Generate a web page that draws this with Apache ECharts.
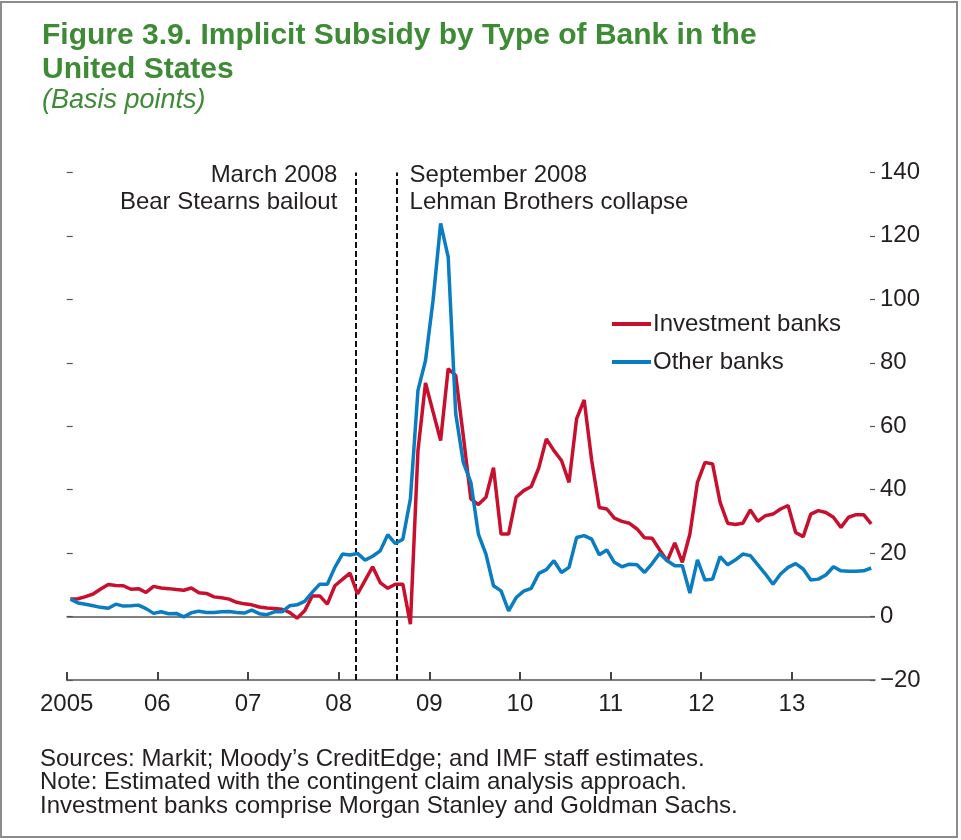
<!DOCTYPE html>
<html><head><meta charset="utf-8">
<script src="https://cdn.jsdelivr.net/npm/echarts@6.0.0/dist/echarts.min.js"></script>
<style>html,body{margin:0;padding:0;background:#fff}#c{width:961px;height:840px}</style>
</head><body><div id="c"></div>
<script>
// ---- data ----
const months = [];
for (let y = 2005; y <= 2013; y++) for (let m = 1; m <= 12; m++) { if (y === 2013 && m > 11) break; months.push(y + '-' + String(m).padStart(2, '0')); }

const investmentBanks = [
  5.5, 5.6, 6.3, 7.1, 8.7, 10.1, 9.8, 9.7, 8.6, 8.8, 7.6, 9.5,
  9.0, 8.8, 8.5, 8.3, 9.0, 7.5, 7.3, 6.2, 5.9, 5.5, 4.5, 4.0,
  3.7, 3.0, 2.7, 2.5, 2.3, 1.3, -0.5, 1.8, 6.5, 6.5, 3.9, 9.7,
  11.7, 13.7, 7.1, 11.4, 15.7, 10.7, 8.9, 10.2, 10.2, -2.4, 52.3, 73.6,
  64.5, 55.5, 78.1, 76.0, 57.0, 37.1, 35.3, 37.6, 46.9, 26.0, 26.0, 37.6,
  39.7, 41.0, 46.9, 56.0, 52.3, 49.2, 42.3, 62.3, 68.3, 49.2, 34.4, 33.9,
  31.0, 30.0, 29.4, 27.6, 24.8, 24.7, 21.0, 17.5, 23.2, 17.1, 26.0, 42.3,
  48.6, 48.1, 36.0, 29.4, 29.0, 29.4, 33.6, 30.0, 31.8, 32.3, 33.9, 35.0,
  26.5, 25.2, 32.3, 33.4, 32.8, 31.3, 28.1, 31.3, 32.1, 32.1, 29.2
];
const otherBanks = [
  5.5, 4.3, 3.9, 3.4, 2.9, 2.6, 3.9, 3.3, 3.4, 3.6, 2.5, 1.0,
  1.5, 0.9, 1.0, -0.1, 1.2, 1.7, 1.3, 1.3, 1.5, 1.6, 1.3, 1.1,
  2.0, 0.9, 0.6, 1.5, 1.5, 3.4, 3.7, 4.8, 7.6, 10.2, 10.2, 15.5,
  19.7, 19.4, 19.9, 17.8, 19.0, 20.7, 25.8, 23.0, 24.4, 37.1, 71.3, 80.7,
  99.7, 123.9, 113.4, 63.9, 48.6, 42.3, 26.0, 19.7, 9.7, 8.1, 1.8, 6.0,
  8.0, 8.9, 13.6, 14.8, 17.6, 13.9, 15.5, 24.9, 25.5, 24.4, 19.5, 21.0,
  17.1, 15.7, 16.5, 16.3, 13.9, 16.7, 19.9, 17.6, 16.0, 16.0, 7.4, 17.9,
  11.5, 11.8, 18.9, 16.3, 17.8, 19.7, 19.2, 16.3, 13.4, 10.2, 13.4, 15.5,
  16.7, 15.0, 11.5, 11.8, 13.1, 15.7, 14.4, 14.3, 14.3, 14.4, 15.3
];
const yearTicks = [2005, 2006, 2007, 2008, 2009, 2010, 2011, 2012, 2013];
const yearLabels = ['2005', '06', '07', '08', '09', '10', '11', '12', '13'];
const eventDates = [2008.19, 2008.645];
const eventLabels = [['March 2008', 'Bear Stearns bailout'], ['September 2008', 'Lehman Brothers collapse']];
const titleLines = ['Figure 3.9. Implicit Subsidy by Type of Bank in the', 'United States'];
const subtitle = '(Basis points)';
const notes = ['Sources: Markit; Moody\u2019s CreditEdge; and IMF staff estimates.',
  'Note: Estimated with the contingent claim analysis approach.',
  'Investment banks comprise Morgan Stanley and Goldman Sachs.'];

// ---- build ----
function toYear(s) { const [y, m] = s.split('-').map(Number); return y + (m - 0.5) / 12; }
const FONT = "'Liberation Sans', Arial, Helvetica, sans-serif";
const TXT = '#231f20';
const AX = '#555';
const RED = '#C8102E';
const BLUE = '#0A7CC1';
const GREEN = '#3E8B35';
const Y_MIN = -20, Y_MAX = 140, TICK_UNITS = 2.5; // x-tick length in axis units (~8px)

const chart = echarts.init(document.getElementById('c'), null, { renderer: 'canvas' });
const option = {
  animation: false,
  backgroundColor: '#fff',
  textStyle: { fontFamily: FONT },
  grid: { left: 66.7, right: 86, top: 172.4, bottom: 160, containLabel: false },
  legend: {
    orient: 'vertical', left: 612, top: 312, padding: 0, itemWidth: 39, itemHeight: 4, itemGap: 14, icon: 'rect',
    textStyle: { fontSize: 24, color: TXT, fontFamily: FONT, padding: [0, 0, 0, -3] },
    data: ['Investment banks', 'Other banks']
  },
  xAxis: {
    type: 'value', min: 2005, max: 2013.917, interval: 1,
    axisLine: { onZero: false, lineStyle: { color: AX, width: 1.5 } },
    axisTick: { show: false },
    axisLabel: { fontSize: 24, color: TXT, margin: 12, fontFamily: FONT, showMaxLabel: false,
      formatter: v => { const k = yearTicks.indexOf(v); return k >= 0 ? yearLabels[k] : ''; } },
    splitLine: { show: false }
  },
  yAxis: [
    { type: 'value', position: 'right', min: Y_MIN, max: Y_MAX, interval: 20,
      axisLine: { show: false },
      axisTick: { show: true, inside: true, length: 5, lineStyle: { color: AX, width: 1.2 } },
      axisLabel: { fontSize: 24, color: TXT, margin: 5, fontFamily: FONT, formatter: v => v < 0 ? '\u2212' + Math.abs(v) : String(v) },
      splitLine: { show: false } },
    { type: 'value', position: 'left', min: Y_MIN, max: Y_MAX, interval: 20,
      axisLine: { show: false },
      axisTick: { show: true, inside: true, length: 6, lineStyle: { color: AX, width: 1.2 } },
      axisLabel: { show: false }, splitLine: { show: false } }
  ],
  series: [
    { name: 'Investment banks', type: 'line', showSymbol: false, symbol: 'none', color: RED,
      lineStyle: { width: 3.5, color: RED }, z: 3,
      data: months.map((m, i) => [toYear(m), investmentBanks[i]]),
      markLine: { silent: true, symbol: ['none', 'none'], label: { show: false }, z: 1,
        data: [
          { yAxis: 0, lineStyle: { color: AX, width: 1.5, type: 'solid' } },
          ...eventDates.map(d => ({ xAxis: d, lineStyle: { color: '#111', width: 2, type: [6, 3] } })),
          ...yearTicks.map(t => [
            { coord: [t, Y_MIN], lineStyle: { color: '#444', width: 2, type: 'solid' } },
            { coord: [t, Y_MIN + TICK_UNITS] }
          ])
        ] } },
    { name: 'Other banks', type: 'line', showSymbol: false, symbol: 'none', color: BLUE,
      lineStyle: { width: 3.5, color: BLUE }, z: 4,
      data: months.map((m, i) => [toYear(m), otherBanks[i]]) }
  ]
};
chart.setOption(option);

const top140 = chart.convertToPixel({ yAxisIndex: 0 }, Y_MAX);
const ex = eventDates.map(d => chart.convertToPixel({ xAxisIndex: 0 }, d));
const g = [];
g.push({ type: 'rect', shape: { x: 1, y: 2, width: 956, height: 835 }, style: { fill: 'none', stroke: '#8c8c8c', lineWidth: 2 }, z: 0 });
titleLines.forEach((t, i) => g.push({ type: 'text', x: 42, y: 36 + i * 34,
  style: { text: t, fontSize: 30, fontWeight: 'bold', fontFamily: FONT, fill: GREEN, align: 'left', verticalAlign: 'middle' } }));
g.push({ type: 'text', x: 42, y: 100, style: { text: subtitle, fontSize: 27, fontStyle: 'italic', fontFamily: FONT, fill: GREEN, align: 'left', verticalAlign: 'middle' } });
notes.forEach((t, i) => g.push({ type: 'text', x: 40, y: 759 + i * 23.5,
  style: { text: t, fontSize: 24, fontFamily: FONT, fill: TXT, align: 'left', verticalAlign: 'middle' } }));
eventLabels[0].forEach((t, i) => g.push({ type: 'text', x: ex[0] - 18.5, y: top140 + 3 + i * 27,
  style: { text: t, fontSize: 24, fontFamily: FONT, fill: TXT, align: 'right', verticalAlign: 'middle' } }));
eventLabels[1].forEach((t, i) => g.push({ type: 'text', x: ex[1] + 12.5, y: top140 + 3 + i * 27,
  style: { text: t, fontSize: 24, fontFamily: FONT, fill: TXT, align: 'left', verticalAlign: 'middle' } }));
chart.setOption({ graphic: g });
</script>
</body></html>
